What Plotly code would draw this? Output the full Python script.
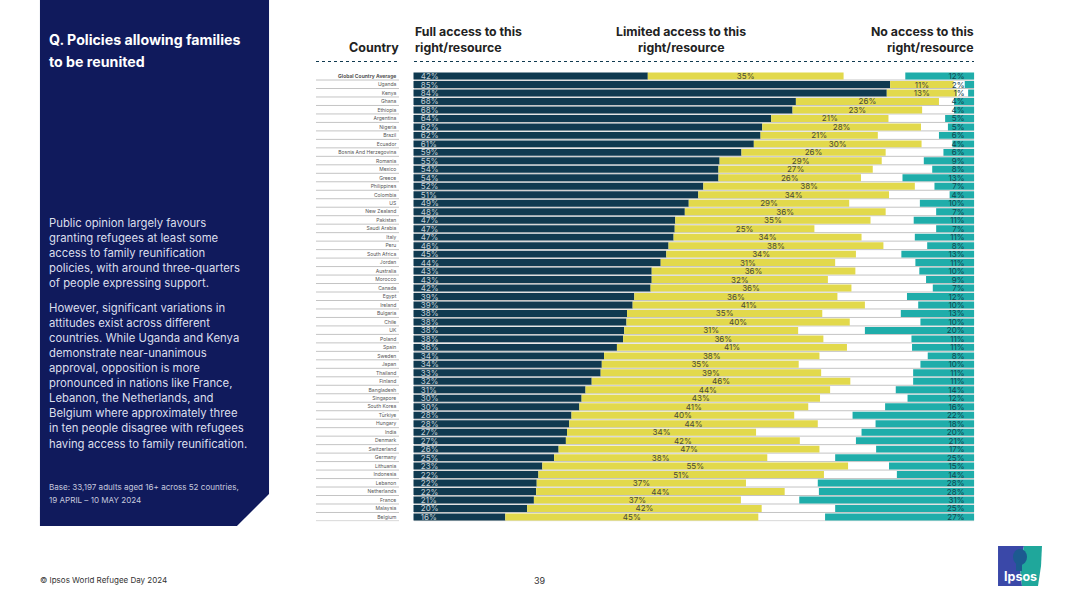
"""Ipsos World Refugee Day slide: policies allowing families to be reunited."""

import numpy as np
import plotly.graph_objects as go

W, H = 1080, 607
FONT = "Inter"

countries = [
    "Global Country Average", "Uganda", "Kenya", "Ghana", "Ethiopia", "Argentina", "Nigeria", "Brazil",
    "Ecuador", "Bosnia And Herzegovina", "Romania", "Mexico", "Greece", "Philippines", "Colombia", "US",
    "New Zealand", "Pakistan", "Saudi Arabia", "Italy", "Peru", "South Africa", "Jordan", "Australia",
    "Morocco", "Canada", "Egypt", "Ireland", "Bulgaria", "Chile", "UK", "Poland", "Spain", "Sweden",
    "Japan", "Thailand", "Finland", "Bangladesh", "Singapore", "South Korea", "Türkiye", "Hungary",
    "India", "Denmark", "Switzerland", "Germany", "Lithuania", "Indonesia", "Lebanon", "Netherlands",
    "France", "Malaysia", "Belgium",
]

# bar lengths
full_access = [
    41.8, 85.0, 84.4, 68.2, 67.6, 63.8, 62.2, 61.9, 60.7, 58.5, 54.6, 54.4, 54.4, 51.7, 50.8, 49.1, 48.4,
    46.7, 46.6, 46.4, 45.5, 45.1, 44.1, 42.5, 42.5, 42.3, 39.4, 39.1, 38.1, 38.0, 37.6, 37.4, 36.3, 34.0,
    33.6, 33.4, 31.8, 30.7, 30.0, 29.6, 28.2, 27.8, 27.4, 27.2, 25.9, 25.1, 23.0, 22.3, 22.0, 21.9, 21.5,
    20.3, 16.4,
]
limited_access = [
    34.9, 11.3, 12.5, 25.5, 23.1, 20.9, 28.3, 20.9, 29.9, 25.7, 28.9, 27.5, 25.4, 37.7, 34.0, 28.6, 35.8,
    34.8, 24.9, 33.5, 38.3, 33.8, 31.1, 36.3, 31.4, 35.8, 36.2, 41.4, 34.8, 39.8, 31.0, 35.7, 41.0, 38.4,
    35.1, 39.3, 46.1, 43.6, 42.5, 40.8, 39.7, 44.3, 33.7, 41.7, 46.5, 38.0, 54.5, 50.9, 37.3, 44.3, 36.9,
    41.8, 45.1,
]
no_access = [
    12.3, 1.7, 1.1, 3.6, 3.6, 5.2, 4.7, 6.3, 3.9, 5.5, 9.0, 7.5, 12.8, 7.1, 4.4, 9.7, 6.8, 10.8, 6.8,
    10.6, 8.4, 13.0, 10.5, 9.8, 8.6, 7.4, 12.0, 10.0, 13.1, 9.6, 19.5, 11.2, 11.1, 8.3, 9.6, 10.9, 10.9,
    14.0, 11.9, 15.9, 21.7, 17.6, 20.1, 21.1, 17.5, 24.8, 15.2, 13.8, 27.9, 27.7, 31.2, 24.8, 26.6,
]

# printed labels
full_labels = [
    42, 85, 84, 68, 68, 64, 62, 62, 61, 59, 55, 54, 54, 52, 51, 49, 48, 47, 47, 47, 46, 45, 44, 43, 43,
    42, 39, 39, 38, 38, 38, 38, 36, 34, 34, 33, 32, 31, 30, 30, 28, 28, 27, 27, 26, 25, 23, 22, 22, 22,
    21, 20, 16,
]
limited_labels = [
    35, 11, 13, 26, 23, 21, 28, 21, 30, 26, 29, 27, 26, 38, 34, 29, 36, 35, 25, 34, 38, 34, 31, 36, 32,
    36, 36, 41, 35, 40, 31, 36, 41, 38, 35, 39, 46, 44, 43, 41, 40, 44, 34, 42, 47, 38, 55, 51, 37, 44,
    37, 42, 45,
]
no_labels = [
    12, 2, 1, 4, 4, 5, 5, 6, 4, 6, 9, 8, 13, 7, 4, 10, 7, 11, 7, 11, 8, 13, 11, 10, 9, 7, 12, 10, 13, 10,
    20, 11, 11, 8, 10, 11, 11, 14, 12, 16, 22, 18, 20, 21, 17, 25, 15, 14, 28, 28, 31, 25, 27,
]

panel_title = ["Q. Policies allowing families", "to be reunited"]
panel_body = [
    (223, "Public opinion largely favours"),
    (238, "granting refugees at least some"),
    (253, "access to family reunification"),
    (268, "policies, with around three-quarters"),
    (283, "of people expressing support."),
    (308, "However, significant variations in"),
    (323, "attitudes exist across different"),
    (338, "countries. While Uganda and Kenya"),
    (353, "demonstrate near-unanimous"),
    (368, "approval, opposition is more"),
    (383, "pronounced in nations like France,"),
    (398, "Lebanon, the Netherlands, and"),
    (413, "Belgium where approximately three"),
    (428, "in ten people disagree with refugees"),
    (444, "having access to family reunification."),
]
panel_base = [
    (487, "Base: 33,197 adults aged 16+ across 52 countries,"),
    (499.5, "19 APRIL – 10 MAY 2024"),
]

NAVY = "#101a5c"
DARK = "#103a50"
YELLOW = "#e2d94c"
TEAL = "#1fadaa"
RULE = "#c4c4c4"


def px(x):
    return x / W


def py(y):
    return 1 - y / H


def note(x, y, text, size, color="#222222", anchor="left"):
    # annotations carry about 2px of padding, take it back out
    nudge = {"left": -2, "right": 2, "center": 0}[anchor]
    return dict(
        x=px(x + nudge), y=py(y), xref="paper", yref="paper", text=text, showarrow=False,
        xanchor=anchor, yanchor="middle", align=anchor,
        font=dict(family=FONT, size=size, color=color),
    )


def pct(values, before="", after=""):
    return [f"{before}{v}%{after}" for v in values]


def page_path(points):
    return "M " + " L ".join(f"{px(x):.4f} {py(y):.4f}" for x, y in points) + " Z"


rows = np.arange(len(countries))
full = np.array(full_access)
limited = np.array(limited_access)
none = np.array(no_access)

fig = go.Figure()
common = dict(
    y=rows, orientation="h", width=0.82, textposition="inside", textangle=0,
    constraintext="none", cliponaxis=False, hoverinfo="skip", showlegend=False,
)
fig.add_trace(go.Bar(
    x=full, base=0, marker=dict(color=DARK, line_width=0),
    text=pct(full_labels, before="\u00a0\u00a0"), insidetextanchor="start",
    insidetextfont=dict(family=FONT, size=8, color="#c3cfd6"), **common,
))
fig.add_trace(go.Bar(
    x=limited, base=full, marker=dict(color=YELLOW, line_width=0),
    text=pct(limited_labels), insidetextanchor="middle",
    insidetextfont=dict(family=FONT, size=8, color="#4a4a3a"), **common,
))
fig.add_trace(go.Bar(
    x=none, base=100 - none, marker=dict(color=TEAL, line_width=0),
    text=pct(no_labels, after="\u00a0\u00a0\u00a0"), insidetextanchor="end",
    insidetextfont=dict(family=FONT, size=8, color="#124650"), **common,
))

shapes = [
    # left panel with its cut corner
    dict(type="path", xref="paper", yref="paper", line_width=0, fillcolor=NAVY,
         path=page_path([(40, 0), (269, 0), (269, 494), (237, 526), (40, 526)])),
    # dotted header rules
    dict(type="line", xref="paper", yref="paper", x0=px(316), x1=px(399), y0=py(61.5), y1=py(61.5),
         line=dict(color=DARK, width=1, dash="dot")),
    dict(type="line", xref="paper", yref="paper", x0=px(414), x1=px(974), y0=py(61.5), y1=py(61.5),
         line=dict(color=DARK, width=1, dash="dot")),
    # logo
    dict(type="path", xref="paper", yref="paper", line_width=0, fillcolor="#3a48a8",
         path=page_path([(998, 546), (1024, 546), (1020, 566), (1022, 586), (998, 586)])),
    dict(type="path", xref="paper", yref="paper", line_width=0, fillcolor="#1fa79b",
         path=page_path([(1024, 546), (1042, 546), (1041, 566), (1038, 586), (1022, 586), (1020, 566)])),
    dict(type="circle", xref="paper", yref="paper", line_width=0, fillcolor="#1c5a90",
         x0=px(1013), x1=px(1027), y0=py(549), y1=py(565)),
    dict(type="rect", xref="paper", yref="paper", line_width=0, fillcolor="#1c5a90",
         x0=px(1016), x1=px(1022), y0=py(563), y1=py(571)),
]
# thin rule under each row, on the label side and under the bars
for i in rows:
    for x0, x1 in [(316, 399), (414, 974)]:
        shapes.append(dict(
            type="line", xref="paper", yref="y", x0=px(x0), x1=px(x1), y0=i + 0.47, y1=i + 0.47,
            line=dict(color=RULE, width=1), layer="below",
        ))

annotations = [
    note(49, 40, f"<b>{panel_title[0]}</b>", 14.2, "white"),
    note(49, 61, f"<b>{panel_title[1]}</b>", 14.2, "white"),
    note(399, 48, "<b>Country</b>", 12.5, anchor="right"),
    note(415, 32, "<b>Full access to this</b>", 12.3),
    note(415, 48, "<b>right/resource</b>", 12.3),
    note(681, 32, "<b>Limited access to this</b>", 12.3, anchor="center"),
    note(681, 48, "<b>right/resource</b>", 12.3, anchor="center"),
    note(974, 32, "<b>No access to this</b>", 12.3, anchor="right"),
    note(974, 48, "<b>right/resource</b>", 12.3, anchor="right"),
    note(40, 580, "© Ipsos World Refugee Day 2024", 8, "#333333"),
    note(540, 580, "39", 9, "#333333", anchor="center"),
    note(1020, 576, "<b>Ipsos</b>", 12.5, "white", anchor="center"),
]
annotations += [note(49, y, line, 11.3, "#dcdfec") for y, line in panel_body]
annotations += [note(49, y, line, 8.05, "#c6c9de") for y, line in panel_base]

ticktext = [f"<b>{c}</b>" if i == 0 else c for i, c in enumerate(countries)]

fig.update_layout(
    width=W, height=H, autosize=False,
    margin=dict(l=0, r=0, t=0, b=0),
    paper_bgcolor="white", plot_bgcolor="white",
    barmode="overlay",
    font=dict(family=FONT),
    shapes=shapes, annotations=annotations,
    xaxis=dict(domain=[px(413.3), px(974.3)], range=[0, 100], visible=False, fixedrange=True),
    yaxis=dict(
        domain=[py(521.2), py(71.8)], range=[52.5, -0.5],
        tickmode="array", tickvals=rows, ticktext=ticktext,
        tickfont=dict(family=FONT, size=5, color="#555555"),
        showgrid=False, zeroline=False, showline=False, ticks="", ticklabelstandoff=16, fixedrange=True,
    ),
)

fig.write_html("out.html", config={"displayModeBar": False},
               post_script="document.body.style.margin='0';")
